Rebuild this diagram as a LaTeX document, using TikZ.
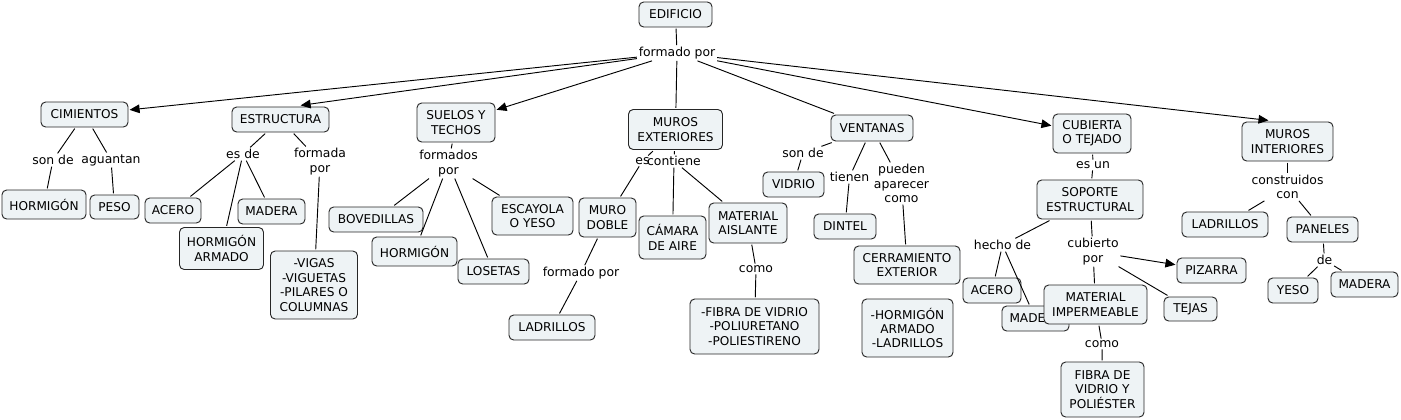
\documentclass[tikz,border=0pt]{standalone}
\usepackage{fontspec}
\setmainfont{DejaVu Sans}
\usetikzlibrary{arrows.meta}
\definecolor{boxfill}{RGB}{238,243,245}
\tikzset{
  bx/.style={draw=black!85, fill=boxfill, rounded corners=3.5pt, align=center,
    inner sep=1pt, outer sep=1.2pt, line width=0.7pt,
    font=\fontsize{9.1}{10.8}\selectfont},
  sz/.style 2 args={minimum width=#1*0.75pt, minimum height=#2*0.75pt},
  lbl/.style={inner sep=1.2pt, align=center, font=\fontsize{9.3}{10.8}\selectfont},
  ln/.style={draw=black, line width=0.7pt},
  arr/.style={ln, -{Triangle[length=7.5pt,width=6.5pt]}}
}
\begin{document}
\begin{tikzpicture}[x=0.75pt,y=-0.75pt]
\useasboundingbox (0,0) rectangle (1401,419);
% main nodes
\node[bx,sz={73}{25}] (edif) at (675.5,14.5) {EDIFICIO};
\node[lbl] (fp) at (677,53) {formado por};
\node[bx,sz={87}{25}] (cim) at (84.5,114.5) {CIMIENTOS};
\node[bx,sz={97}{25}] (est) at (280.5,119.5) {ESTRUCTURA};
\node[bx,sz={78}{39}] (suel) at (456,122.5) {SUELOS Y\\TECHOS};
\node[bx,sz={94}{40}] (mext) at (675.5,129.5) {MUROS\\EXTERIORES};
\node[bx,sz={82}{26}] (vent) at (872,128) {VENTANAS};
\node[bx,sz={78}{39}] (cub) at (1092,133.5) {CUBIERTA\\O TEJADO};
\node[bx,sz={91}{39}] (mint) at (1287.5,141.5) {MUROS\\INTERIORES};
% cimientos
\node[lbl] (sonde1) at (53,160) {son de};
\node[lbl] (agu) at (111,160) {aguantan};
\node[bx,sz={84}{29}] (horm1) at (44,204.5) {HORMIGÓN};
\node[bx,sz={49}{24}] (peso) at (114.5,207) {PESO};
% estructura
\node[lbl] (esde) at (243,154) {es de};
\node[lbl] (fdapor) at (320,161.5) {formada\\por};
\node[bx,sz={56}{25}] (acero1) at (173,210.5) {ACERO};
\node[bx,sz={84}{42}] (harm) at (221.5,248.5) {HORMIGÓN\\ARMADO};
\node[bx,sz={67}{25}] (mad1) at (271.5,211.5) {MADERA};
\node[bx,sz={87}{68}] (vigas) at (314,285) {-VIGAS\\-VIGUETAS\\-PILARES O\\COLUMNAS};
% suelos
\node[lbl] (fdospor) at (448.5,163.5) {formados\\por};
\node[bx,sz={94}{25}] (bov) at (376,219.5) {BOVEDILLAS};
\node[bx,sz={85}{29}] (horm2) at (414.5,251.5) {HORMIGÓN};
\node[bx,sz={71}{25}] (los) at (493.5,271.5) {LOSETAS};
\node[bx,sz={81}{38}] (esc) at (532.5,216) {ESCAYOLA\\O YESO};
% muros exteriores
\node[lbl] (es) at (642.5,161) {es};
\node[lbl] (cont) at (674,161) {contiene};
\node[bx,sz={57}{39}] (mdoble) at (607.5,217.5) {MURO\\DOBLE};
\node[bx,sz={67}{43}] (cam) at (672.5,237.5) {CÁMARA\\DE AIRE};
\node[bx,sz={78}{40}] (mais) at (748,223) {MATERIAL\\AISLANTE};
\node[lbl] (fp2) at (581,273) {formado por};
\node[bx,sz={86}{25}] (lad1) at (552,327.5) {LADRILLOS};
\node[lbl] (como1) at (756,269) {como};
\node[bx,sz={129}{55}] (fibra1) at (754.5,326.5) {-FIBRA DE VIDRIO\\-POLIURETANO\\-POLIESTIRENO};
% ventanas
\node[lbl] (sonde2) at (803,153) {son de};
\node[lbl] (tienen) at (849.5,177) {tienen};
\node[lbl] (pueden) at (901.5,183.5) {pueden\\aparecer\\como};
\node[bx,sz={61}{25}] (vidrio) at (793.5,184.5) {VIDRIO};
\node[bx,sz={62}{25}] (dintel) at (845,226.5) {DINTEL};
\node[bx,sz={106}{38}] (cerr) at (907,265) {CERRAMIENTO\\EXTERIOR};
\node[bx,sz={91}{58}] (hl) at (907.5,328) {-HORMIGÓN\\ARMADO\\-LADRILLOS};
% cubierta
\node[lbl] (esun) at (1093,165) {es un};
\node[bx,sz={106}{39}] (sop) at (1090,199.5) {SOPORTE\\ESTRUCTURAL};
\node[lbl] (hecho) at (1002.5,245) {hecho de};
\node[lbl] (cubpor) at (1093,251.5) {cubierto\\por};
\node[bx,sz={58}{25}] (acero2) at (992,290.5) {ACERO};
\node[bx,sz={67}{25}] (mad2) at (1035.5,318.5) {MADERA};
\node[bx,sz={103}{39}] (mimp) at (1095.5,304.5) {MATERIAL\\IMPERMEABLE};
\node[bx,sz={69}{25}] (piz) at (1211.5,270.5) {PIZARRA};
\node[bx,sz={53}{24}] (tejas) at (1190.5,309) {TEJAS};
\node[lbl] (como2) at (1102,344) {como};
\node[bx,sz={83}{55}] (fibra2) at (1102.5,389.5) {FIBRA DE\\VIDRIO Y\\POLIÉSTER};
% muros interiores
\node[lbl] (constr) at (1287.5,187) {construidos\\con};
\node[bx,sz={86}{25}] (lad2) at (1225,224.5) {LADRILLOS};
\node[bx,sz={71}{25}] (pan) at (1322.5,229.5) {PANELES};
\node[lbl] (de) at (1324.5,260) {de};
\node[bx,sz={50}{25}] (yeso) at (1293,290.5) {YESO};
\node[bx,sz={67}{25}] (mad3) at (1364.5,284.5) {MADERA};
% connectors
\draw[ln] (edif) -- (fp);
\draw[arr] (fp) -- (cim);
\draw[arr] (fp) -- (est.35);
\draw[arr] (fp) -- (suel);
\draw[ln] (fp) -- (mext);
\draw[ln] (fp) -- (vent);
\draw[arr] (fp) -- (cub);
\draw[arr] (fp) -- (mint.132);
\draw[ln] (cim) -- (sonde1);
\draw[ln] (sonde1) -- (horm1);
\draw[ln] (cim) -- (agu);
\draw[ln] (agu) -- (peso);
\draw[ln] (est) -- (esde);
\draw[ln] (esde) -- (acero1);
\draw[ln] (esde) -- (harm);
\draw[ln] (esde) -- (mad1);
\draw[ln] (est) -- (fdapor);
\draw[ln] (fdapor) -- (vigas);
\draw[ln] (suel) -- (fdospor);
\draw[ln] (fdospor) -- (bov);
\draw[ln] (fdospor) -- (horm2);
\draw[ln] (fdospor) -- (los);
\draw[ln] (fdospor) -- (esc);
\draw[ln] (mext) -- (es);
\draw[ln] (es) -- (mdoble);
\draw[ln] (mext) -- (cont);
\draw[ln] (cont) -- (cam);
\draw[ln] (cont) -- (mais);
\draw[ln] (mdoble) -- (fp2);
\draw[ln] (fp2) -- (lad1);
\draw[ln] (mais) -- (como1);
\draw[ln] (como1) -- (fibra1);
\draw[ln] (vent) -- (sonde2);
\draw[ln] (sonde2) -- (vidrio);
\draw[ln] (vent) -- (tienen);
\draw[ln] (tienen) -- (dintel);
\draw[ln] (vent) -- (pueden);
\draw[ln] (pueden) -- (cerr);
\draw[ln] (cub) -- (esun);
\draw[ln] (esun) -- (sop);
\draw[ln] (sop) -- (hecho);
\draw[ln] (hecho) -- (acero2);
\draw[ln] (hecho) -- (mad2);
\draw[ln] (sop) -- (cubpor);
\draw[ln] (cubpor) -- (mimp);
\draw[arr] (cubpor) -- (piz);
\draw[ln] (cubpor) -- (tejas);
\draw[ln] (mimp) -- (como2);
\draw[ln] (como2) -- (fibra2);
\draw[ln] (mint) -- (constr);
\draw[ln] (constr) -- (lad2);
\draw[ln] (constr) -- (pan);
\draw[ln] (pan) -- (de);
\draw[ln] (de) -- (yeso);
\draw[ln] (de) -- (mad3);
\end{tikzpicture}
\end{document}
